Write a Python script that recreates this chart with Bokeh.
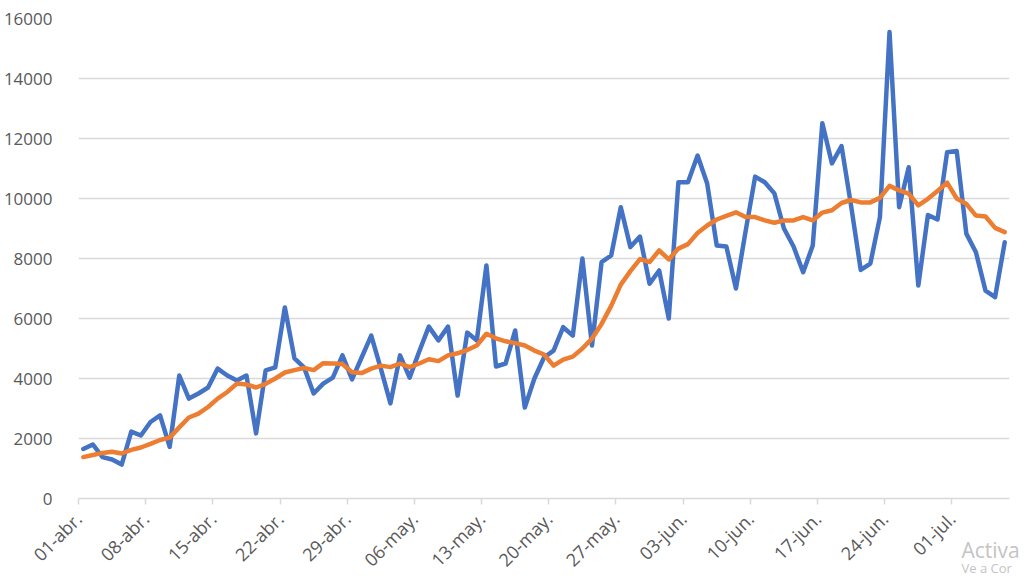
from bokeh.plotting import figure
from bokeh.models import FixedTicker, Label, ColumnDataSource
from bokeh.embed import file_html
from bokeh.resources import INLINE
import math

# Tick labels (weekly, starting 01-abr.)
etiquetas = ["01-abr.", "08-abr.", "15-abr.", "22-abr.", "29-abr.", "06-may.", "13-may.",
             "20-may.", "27-may.", "03-jun.", "10-jun.", "17-jun.", "24-jun.", "01-jul."]

# Daily values, 01-abr. .. 06-jul.
casos_diarios = [1650, 1800, 1380, 1300, 1130, 2230, 2100, 2550, 2770, 1720,
                 4100, 3330, 3500, 3700, 4330, 4100, 3930, 4100, 2170, 4270,
                 4370, 6370, 4670, 4370, 3500, 3830, 4030, 4770, 3970, 4700,
                 5430, 4330, 3170, 4770, 4030, 4900, 5730, 5270, 5730, 3430,
                 5530, 5270, 7770, 4400, 4500, 5600, 3030, 4000, 4700, 4930,
                 5710, 5430, 8000, 5100, 7880, 8100, 9710, 8380, 8730, 7160,
                 7600, 6000, 10540, 10540, 11430, 10500, 8430, 8400, 7000, 8900,
                 10730, 10540, 10170, 9000, 8400, 7540, 8430, 12510, 11170, 11750,
                 9750, 7620, 7830, 9380, 15550, 9710, 11040, 7100, 9450, 9300,
                 11540, 11580, 8830, 8210, 6930, 6710, 8540]

# Moving average
media_movil = [1380, 1450, 1520, 1560, 1500, 1620, 1700, 1820, 1950, 2030,
               2370, 2700, 2830, 3050, 3330, 3550, 3830, 3800, 3700, 3820,
               4000, 4200, 4280, 4350, 4280, 4510, 4500, 4480, 4210, 4180,
               4330, 4430, 4380, 4500, 4380, 4500, 4640, 4580, 4770, 4840,
               4950, 5100, 5490, 5340, 5240, 5180, 5100, 4930, 4800, 4430,
               4630, 4730, 5000, 5330, 5820, 6420, 7130, 7580, 7980, 7880,
               8270, 7970, 8330, 8480, 8850, 9100, 9300, 9420, 9540, 9380,
               9380, 9270, 9190, 9270, 9270, 9380, 9270, 9530, 9610, 9850,
               9950, 9870, 9870, 10020, 10420, 10270, 10160, 9770, 9990, 10250,
               10530, 10000, 9820, 9430, 9400, 9020, 8880]

dias = list(range(len(casos_diarios)))
src = ColumnDataSource(dict(x=dias, diario=casos_diarios, media=media_movil))

FONT = "Open Sans"
GRAY = "#595959"
GRID = "#d9d9d9"

p = figure(frame_width=931, frame_height=480, output_backend="svg", toolbar_location=None,
           x_range=(-0.5, len(dias) - 0.5), y_range=(0, 16000),
           min_border_left=77, min_border_right=16, min_border_top=18, min_border_bottom=0)
p.outline_line_color = None
p.background_fill_color = "white"
p.border_fill_color = "white"

p.line("x", "diario", source=src, line_color="#4472C4", line_width=4.5,
       line_join="round", line_cap="round")
p.line("x", "media", source=src, line_color="#ED7D31", line_width=4.5,
       line_join="round", line_cap="round")

# x axis
tick_pos = [-0.5 + 7 * k for k in range(len(etiquetas))]
p.xaxis.ticker = FixedTicker(ticks=tick_pos)
p.xaxis.major_label_overrides = {t: lab for t, lab in zip(tick_pos, etiquetas)}
p.xaxis.major_label_orientation = math.pi / 4
p.xaxis.axis_line_color = GRID
p.xaxis.axis_line_width = 1.5
p.xaxis.major_tick_line_color = GRID
p.xaxis.major_tick_line_width = 1.5
p.xaxis.major_tick_out = 6
p.xaxis.major_tick_in = 0
p.xaxis.minor_tick_line_color = None
p.xaxis.major_label_text_font = FONT
p.xaxis.major_label_text_font_size = "18px"
p.xaxis.major_label_text_color = GRAY
p.xaxis.major_label_standoff = 11
p.xgrid.grid_line_color = None

# y axis
p.yaxis.ticker = FixedTicker(ticks=list(range(0, 16001, 2000)))
p.yaxis.axis_line_color = None
p.yaxis.major_tick_line_color = None
p.yaxis.minor_tick_line_color = None
p.yaxis.major_label_text_font = FONT
p.yaxis.major_label_text_font_size = "17px"
p.yaxis.major_label_text_color = GRAY
p.yaxis.major_label_standoff = 20
p.ygrid.grid_line_color = GRID
p.ygrid.grid_line_width = 1.5

# Windows watermark text visible in the screenshot (bottom side panels, drawn upward)
p.add_layout(Label(x=883, y=47, x_units="screen", y_units="screen", text="Activa",
                   text_font=FONT, text_font_size="21px", text_color="#c4c4c4"), "below")
p.add_layout(Label(x=883, y=52, x_units="screen", y_units="screen", text="Ve a Cor",
                   text_font=FONT, text_font_size="13px", text_color="#c4c4c4"), "below")

open("out.html", "w").write(file_html(p, INLINE))
